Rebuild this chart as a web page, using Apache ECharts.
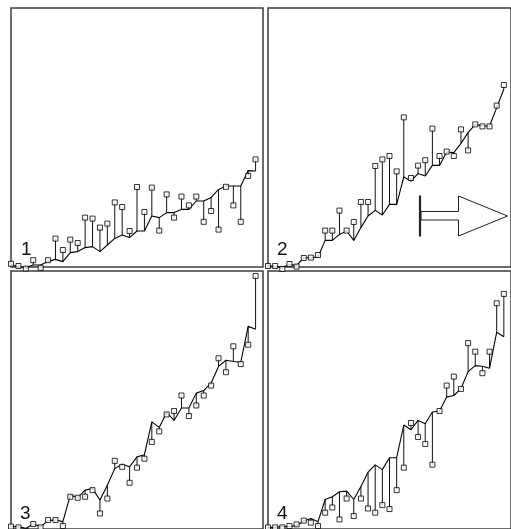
<!DOCTYPE html>
<html>
<head>
<meta charset="utf-8">
<script src="https://cdn.jsdelivr.net/npm/echarts@6/dist/echarts.min.js"></script>
<style>
  html, body { margin: 0; padding: 0; background: #fff; }
  #chart { width: 511px; height: 529px; }
</style>
</head>
<body>
<div id="chart"></div>
<script>
// Period index shared by all four panels
const periods = [1, 2, 3, 4, 5, 6, 7, 8, 9, 10, 11, 12, 13, 14, 15, 16, 17,
                 18, 19, 20, 21, 22, 23, 24, 25, 26, 27, 28, 29, 30, 31, 32, 33, 34];

// Panel 1
const observed1 = [1.6, 0.5, -0.8, 3.4, -0.4, 3.4, 14.2, 8.5, 13.7, 12.0, 24.7, 24.2, 19.7, 21.7, 32.3, 30.0, 18.0,
                   40.0, 27.5, 39.7, 18.2, 36.3, 24.7, 35.2, 30.8, 35.2, 22.6, 28.0, 18.7, 40.1, 30.8, 22.6, 45.5, 53.8];
const fitted1   = [1.3, 0.0, -0.3, 1.0, 1.0, 2.7, 3.8, 2.7, 7.2, 7.7, 9.7, 10.2, 7.7, 11.0, 14.3, 16.0, 14.7,
                   18.0, 18.0, 25.5, 24.7, 27.2, 27.2, 28.8, 28.8, 33.0, 33.0, 34.7, 38.8, 40.5, 40.5, 40.5, 48.2, 48.0];

// Panel 2
const observed2 = [0.5, 0.5, -1.0, 1.5, 0.2, 4.5, 4.7, 6.0, 18.2, 18.2, 28.2, 18.2, 22.5, 32.5, 32.5, 50.5, 53.8,
                   55.5, 47.8, 74.8, 44.5, 50.7, 53.4, 69.2, 55.5, 57.7, 55.5, 68.8, 58.3, 71.3, 70.3, 70.3, 80.7, 91.0];
const fitted2   = [0.5, 0.5, -0.3, 1.2, 0.8, 4.5, 4.7, 5.0, 13.3, 13.3, 16.3, 18.0, 13.3, 19.7, 25.5, 28.3, 26.0,
                   31.3, 31.3, 45.0, 43.0, 46.7, 45.5, 50.8, 50.8, 57.5, 57.2, 61.8, 67.2, 71.3, 70.5, 70.5, 79.7, 89.0];

// Panel 3
const observed3 = [1.2, 0.8, -1.0, 2.5, 0.8, 4.5, 4.5, 1.5, 16.2, 15.7, 16.2, 19.5, 7.8, 15.3, 34.2, 31.2, 23.2,
                   30.8, 35.3, 43.7, 49.0, 57.5, 59.2, 67.0, 56.7, 62.0, 67.0, 72.0, 85.7, 78.7, 91.7, 82.8, 92.5, 127.0];
const fitted3   = [1.2, 1.2, 0.3, 2.5, 1.2, 4.2, 4.5, 3.7, 17.0, 15.8, 19.5, 20.3, 14.5, 22.0, 30.3, 32.5, 31.2,
                   36.2, 37.3, 53.8, 51.0, 58.5, 54.5, 60.7, 60.7, 68.2, 69.5, 73.3, 81.6, 84.7, 84.1, 83.7, 101.7, 100.3];

// Panel 4
const observed4 = [0.8, 0.8, 0.8, 1.5, 2.3, 4.2, 3.2, 1.5, 8.2, 10.8, 4.8, 15.3, 6.5, 15.3, 10.3, 8.2, 12.0,
                   10.0, 19.5, 30.8, 53.2, 46.2, 42.7, 32.3, 59.2, 72.0, 76.5, 70.3, 93.3, 89.0, 78.2, 89.0, 113.3, 118.0];
const fitted4   = [0.8, 0.8, 1.2, 1.2, 1.7, 4.0, 5.3, 3.7, 14.8, 16.2, 18.7, 19.0, 14.8, 21.3, 28.5, 32.2, 29.8,
                   35.8, 35.8, 52.2, 49.8, 54.5, 52.8, 58.7, 59.2, 66.2, 67.0, 70.5, 79.0, 82.0, 81.7, 80.7, 98.8, 96.5];

const panelLabels = ['1', '2', '3', '4'];

const panels = [
  { observed: observed1, fitted: fitted1 },
  { observed: observed2, fitted: fitted2 },
  { observed: observed3, fitted: fitted3 },
  { observed: observed4, fitted: fitted4 }
];

// Frame placement of the 2x2 layout
const frames = [
  { left: 11,  top: 8 },
  { left: 268, top: 8 },
  { left: 11,  top: 271 },
  { left: 268, top: 271 }
];
const frameW = 252, frameH = 259;

const chart = echarts.init(document.getElementById('chart'), null, { renderer: 'canvas' });

const grid = [], xAxis = [], yAxis = [], series = [];
panels.forEach((p, k) => {
  grid.push({
    left: frames[k].left, top: frames[k].top, width: frameW, height: frameH,
    show: true, borderColor: '#3c3c3c', borderWidth: 1.5, backgroundColor: 'transparent'
  });
  xAxis.push({ type: 'value', gridIndex: k, min: 1, max: 35, show: false });
  yAxis.push({ type: 'value', gridIndex: k, min: 0, max: 129.5, show: false });

  const rows = periods.map((t, i) => [t, p.observed[i], p.fitted[i]]);

  // residual stems from fitted curve to each observation
  series.push({
    type: 'custom', xAxisIndex: k, yAxisIndex: k, clip: false, silent: true, z: 1,
    data: rows,
    renderItem(params, api) {
      const a = api.coord([api.value(0), api.value(1)]);
      const b = api.coord([api.value(0), api.value(2)]);
      return {
        type: 'line',
        shape: { x1: a[0], y1: a[1], x2: b[0], y2: b[1] },
        style: { stroke: '#111', lineWidth: 1 }
      };
    }
  });
  // fitted curve
  series.push({
    type: 'line', xAxisIndex: k, yAxisIndex: k, clip: false, silent: true, z: 2,
    data: periods.map((t, i) => [t, p.fitted[i]]),
    showSymbol: false, symbol: 'none',
    lineStyle: { color: '#000', width: 1.1 }
  });
  // observations
  series.push({
    type: 'scatter', xAxisIndex: k, yAxisIndex: k, clip: false, silent: true, z: 3,
    data: periods.map((t, i) => [t, p.observed[i]]),
    symbol: 'rect', symbolSize: 5,
    itemStyle: { color: '#fff', borderColor: '#000', borderWidth: 1 }
  });
});

const labelPos = [[21, 259], [277, 259], [20, 523], [277, 523]];
const graphic = panelLabels.map((s, k) => ({
  type: 'text', left: labelPos[k][0], top: labelPos[k][1] - 19, z: 10,
  style: { text: s, font: '19px "Liberation Sans", Arial, sans-serif', fill: '#111' }
}));

// forward arrow annotation in panel 2
graphic.push({
  type: 'polygon', z: 10,
  shape: { points: [[421, 211.5], [458.5, 211.5], [458.5, 196], [507.5, 216], [458.5, 236], [458.5, 220], [421, 220]] },
  style: { fill: '#fff', stroke: '#222', lineWidth: 1 }
});
graphic.push({
  type: 'line', z: 11,
  shape: { x1: 420, y1: 195.5, x2: 420, y2: 236.5 },
  style: { stroke: '#222', lineWidth: 2.2 }
});

chart.setOption({
  animation: false,
  backgroundColor: '#fff',
  grid, xAxis, yAxis, series, graphic
});
</script>
</body>
</html>
